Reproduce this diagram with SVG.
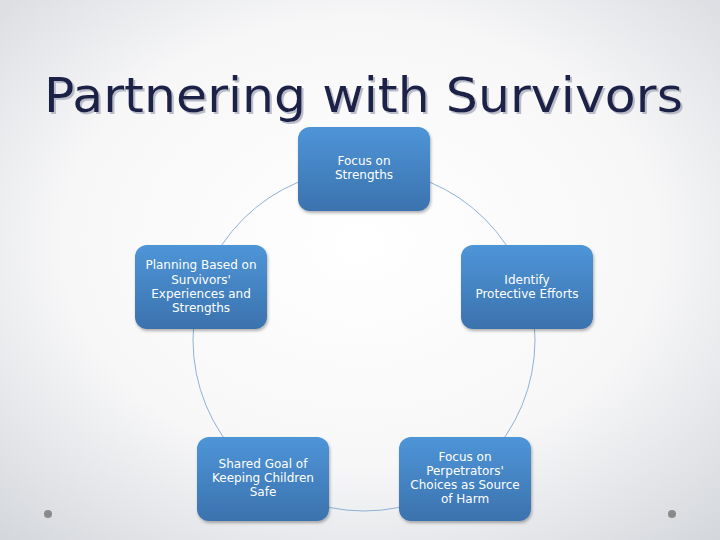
<svg xmlns="http://www.w3.org/2000/svg" width="720" height="540" viewBox="0 0 720 540">
<defs>
<radialGradient id="bg" cx="50%" cy="45%" r="75%">
<stop offset="0" stop-color="#ffffff"/>
<stop offset="0.55" stop-color="#f7f7f8"/>
<stop offset="1" stop-color="#d3d6db"/>
</radialGradient>
<linearGradient id="nodeFill" x1="0" y1="0" x2="0" y2="1">
<stop offset="0" stop-color="#4e95d8"/>
<stop offset="1" stop-color="#3b72ae"/>
</linearGradient>
<filter id="sh" x="-10%" y="-10%" width="130%" height="130%">
<feDropShadow dx="1" dy="2" stdDeviation="1.5" flood-color="#000" flood-opacity="0.3"/>
</filter>
<filter id="tsh" x="-5%" y="-20%" width="110%" height="150%">
<feDropShadow dx="2" dy="2" stdDeviation="0.5" flood-color="#a9aebd" flood-opacity="0.8"/>
</filter>
</defs>
<style>
.node rect{fill:url(#nodeFill);filter:url(#sh)}
.node text{fill:#ffffff;font-family:"DejaVu Sans","Liberation Sans",sans-serif;font-size:12px;text-anchor:middle}
.title{font-family:"DejaVu Sans","Liberation Sans",sans-serif;font-size:48px;fill:#1f2147;filter:url(#tsh)}
.ring{fill:none;stroke:#8fb2d4;stroke-width:1}
.dot{fill:#8a8a8a}
</style>
<rect x="0" y="0" width="720" height="540" fill="url(#bg)"/>
<text x="44" y="112" class="title" textLength="639" lengthAdjust="spacingAndGlyphs">Partnering with Survivors</text>
<g id="connectors">
<circle class="ring" cx="364" cy="340" r="171"/>
</g>
<g id="node-strengths" class="node">
<rect x="298" y="127" width="132" height="84" rx="12"/>
<text x="364" y="165">Focus on</text>
<text x="364" y="179">Strengths</text>
</g>
<g id="node-protective" class="node">
<rect x="461" y="245" width="132" height="84" rx="12"/>
<text x="527" y="284">Identify</text>
<text x="527" y="298">Protective Efforts</text>
</g>
<g id="node-perpetrators" class="node">
<rect x="399" y="437" width="132" height="84" rx="12"/>
<text x="465" y="461">Focus on</text>
<text x="465" y="475">Perpetrators'</text>
<text x="465" y="489">Choices as Source</text>
<text x="465" y="503">of Harm</text>
</g>
<g id="node-shared" class="node">
<rect x="197" y="437" width="132" height="84" rx="12"/>
<text x="263" y="468">Shared Goal of</text>
<text x="263" y="482">Keeping Children</text>
<text x="263" y="496">Safe</text>
</g>
<g id="node-planning" class="node">
<rect x="135" y="245" width="132" height="84" rx="12"/>
<text x="201" y="269">Planning Based on</text>
<text x="201" y="284">Survivors'</text>
<text x="201" y="298">Experiences and</text>
<text x="201" y="312">Strengths</text>
</g>
<circle class="dot" cx="48" cy="514" r="4"/>
<circle class="dot" cx="672" cy="514" r="4"/>
</svg>
